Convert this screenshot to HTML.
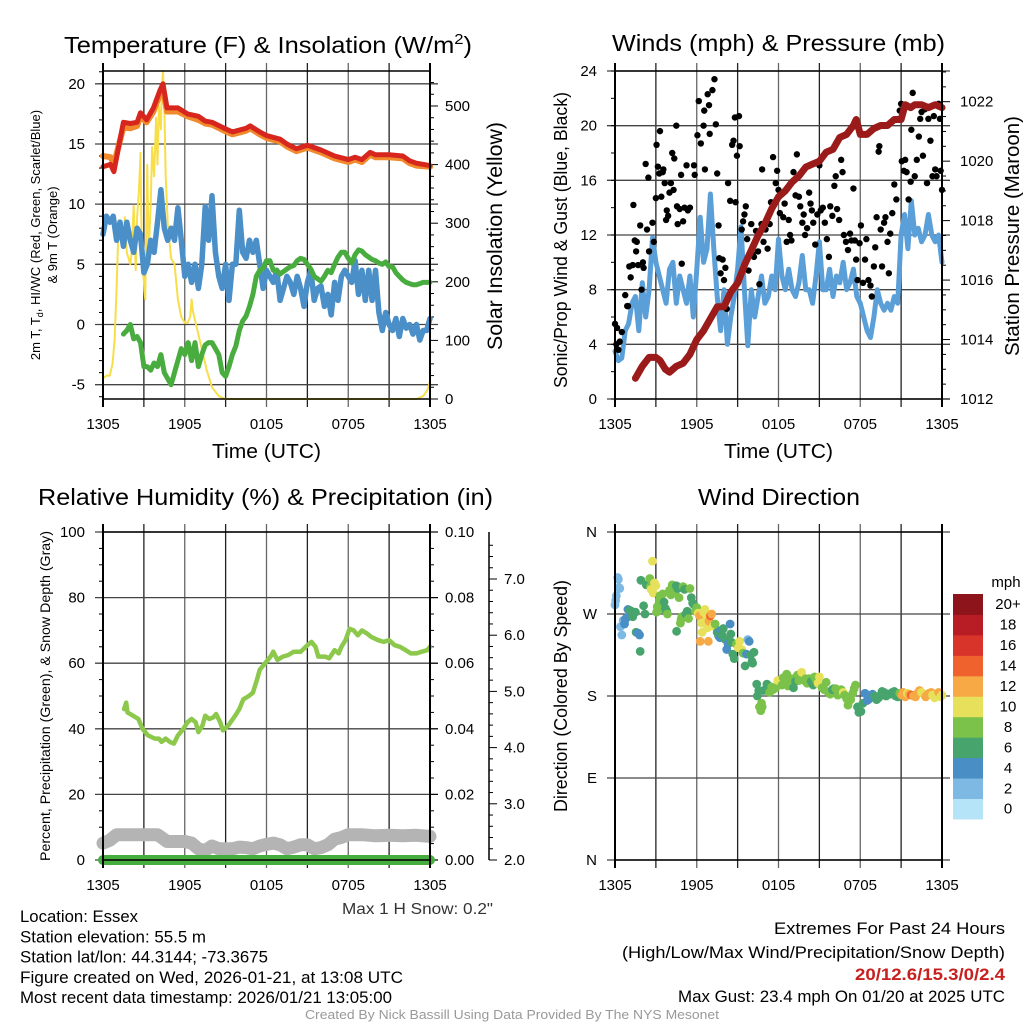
<!DOCTYPE html>
<html><head><meta charset="utf-8"><style>
html,body{margin:0;padding:0;background:#fff;}
svg{display:block;font-family:"Liberation Sans",sans-serif;}
</style></head><body>
<svg id="fig" width="1024" height="1024" viewBox="0 0 1024 1024" xmlns="http://www.w3.org/2000/svg"></svg>
<script>
// ---------- DATA ----------
const xTickLabels = ["1305","1905","0105","0705","1305"];
// Panel 1: temperature (F) & insolation
const tempT = [0,0.55,0.8,1.5,2,2.5,2.75,3.2,3.7,4.2,4.4,4.7,5.5,6.2,7,7.5,8,8.9,9.5,10.5,10.8,11.5,12,13,13.5,14.2,15,15.5,16,17,18,18.5,19,19.6,20,21,22,22.5,23,24];
const tempRed = [13.1,13.3,12.7,16.8,16.7,16.8,17.6,17,18,19.5,20,18,18,17.5,17.3,16.9,16.8,16.3,16,16.3,16.5,16,15.7,15.4,15,14.6,14.9,14.7,14.5,14,13.7,13.9,13.7,14.3,14.1,14.1,14,13.6,13.4,13.2];
const temp9m = [14,13.9,13.3,16.4,16.3,16.5,17.3,16.8,17.7,19.2,19.6,17.7,17.7,17.3,17,16.7,16.6,16.1,15.8,16.1,16.3,15.8,15.5,15.2,14.8,14.4,14.7,14.5,14.3,13.8,13.5,13.7,13.5,14.1,13.9,13.9,13.8,13.4,13.2,13.1];
const hiwcT = [0,0.25,0.5,0.75,1,1.25,1.5,1.75,2,2.25,2.5,2.75,3,3.25,3.5,3.75,4,4.25,4.5,4.75,5,5.25,5.5,5.75,6,6.25,6.5,6.75,7,7.25,7.5,7.75,8,8.25,8.5,8.75,9,9.25,9.5,9.75,10,10.25,10.5,10.75,11,11.25,11.5,11.75,12,12.25,12.5,12.75,13,13.25,13.5,13.75,14,14.25,14.5,14.75,15,15.25,15.5,15.75,16,16.25,16.5,16.75,17,17.25,17.5,17.75,18,18.25,18.5,18.75,19,19.25,19.5,19.75,20,20.25,20.5,20.75,21,21.25,21.5,21.75,22,22.25,22.5,22.75,23,23.25,23.5,23.75,24];
const hiwcBlue = [7.5,9,8.5,9,7,8.5,6.5,8.5,7,6,8,7.5,4.3,5,7,6,8.5,11.2,8,7,8,7,9.7,7,4,5,3.5,5,3,5,9.8,7,10.7,6,4,3,5,2,5,5,9.5,6,5.5,7,6,7,5,3,4.5,4,3.5,4.5,2,3,4,3.5,2.5,4,3,1.5,3.5,4.5,2,3,3.2,1.5,2.5,0.8,3.5,2,4,4.5,4,3.5,5.3,2.5,4.5,2,4.5,2,4.5,1,-0.5,1,0,-0.5,0.5,-1,0.5,-0.3,0,-0.8,0,-1.3,-0.5,-0.5,0.5];
const dewT = [1.5,1.75,2,2.25,2.5,2.75,3,3.25,3.5,3.75,4,4.25,4.5,4.75,5,5.25,5.5,5.75,6,6.25,6.5,6.75,7,7.25,7.5,7.75,8,8.25,8.5,8.75,9,9.25,9.5,9.75,10,10.25,10.5,10.75,11,11.25,11.5,11.75,12,12.25,12.5,12.75,13,13.25,13.5,13.75,14,14.25,14.5,14.75,15,15.25,15.5,15.75,16,16.25,16.5,16.75,17,17.25,17.5,17.75,18,18.25,18.5,18.75,19,19.25,19.5,19.75,20,20.25,20.5,20.75,21,21.25,21.5,21.75,22,22.25,22.5,22.75,23,23.5,24];
const dewGreen = [-0.8,-0.5,0,-1.2,-1,-1.5,-3.5,-3.5,-3.8,-3.2,-3.5,-2.5,-4,-4.5,-5,-4,-3,-2,-2.5,-1.5,-3,-1.5,-3.5,-2.5,-1.7,-1.5,-1.5,-2,-2.5,-4,-4.3,-3.5,-2.5,-1.8,-0.5,0.3,0.7,1.5,2.5,4,4.5,4.7,5.3,5.3,4.5,4.5,4.2,4.4,4.6,4.8,4.9,5.3,5.5,5.4,5,4.6,4,3.8,3.6,4,4.5,4.3,5,5.6,6,6,5.5,5.1,5.8,6.2,6.1,5.8,5.6,5.4,5.3,5.1,5,5.2,4.8,4.8,4.3,4,3.7,3.5,3.4,3.3,3.3,3.5,3.5];
const solarT = [0,0.25,0.5,0.7,0.85,1,1.15,1.3,1.5,1.6,1.75,2,2.1,2.25,2.4,2.5,2.65,2.75,2.85,3,3.1,3.25,3.35,3.5,3.6,3.75,3.9,4,4.1,4.25,4.3,4.4,4.5,4.6,4.75,5,5.25,5.5,5.75,6,6.2,6.4,6.5,6.6,6.8,7,7.3,7.6,8,8.5,9,12,18,23,23.5,23.8,24];
const solarY = [35,40,40,60,100,190,305,300,260,310,250,230,250,330,220,310,360,420,240,200,170,400,250,330,430,380,480,400,500,460,520,560,500,380,300,240,230,170,140,130,130,140,170,150,130,110,80,50,20,5,0,0,0,0,5,15,30];
// Panel 2: wind (mph) & pressure (mb)
const windT = hiwcT;
const windBlue = [3.5,2.8,3,5,5.5,7,7.5,5,8.5,6,8,11.8,10,9,8,7,9.5,10,7,9,8,7,9,6,9.5,13.3,10,11,15,11,7.5,5,8,4,6,7.5,9.5,12.6,8,3.9,8,6,7.5,9,7,7.5,9,8,11.7,9,8,9.5,8,7.5,8.5,10.5,8,8,7,9,11.5,8,8,9.5,7.5,9,8.5,10,8,8.5,9.5,7.5,7,6,5,4.5,6,8,7,6.5,7,6.5,7.5,7,12,13.5,11,14.5,12,12.5,11.5,12,13.5,12,11.5,12,10];
const gustT = [0,0.1,0.15,0.25,0.35,0.5,0.75,0.9,0.95,1.05,1.15,1.3,1.35,1.45,1.55,1.6,1.7,1.85,1.95,2.05,2.1,2.25,2.35,2.45,2.5,2.75,2.85,3.0,3.05,3.15,3.25,3.3,3.4,3.5,3.55,3.65,3.75,3.8,3.9,4.0,4.1,4.2,4.3,4.35,4.5,4.55,4.6,4.75,4.85,4.9,5.0,5.1,5.25,5.35,5.5,5.8,5.85,6.05,6.15,6.3,6.5,6.55,6.6,6.8,6.9,6.95,7.15,7.3,7.4,7.5,7.6,7.65,7.75,7.9,8.0,8.1,8.2,8.3,8.45,8.6,8.7,8.8,8.85,8.95,9.1,9.15,9.3,9.4,9.5,9.6,9.7,9.8,9.9,10.0,10.1,10.2,10.35,10.5,10.6,10.75,10.8,10.9,11.05,11.2,11.35,11.45,11.6,11.8,11.9,12.0,12.1,12.2,12.35,12.45,12.6,12.75,12.85,12.95,13.1,13.25,13.35,13.5,13.6,13.75,13.85,13.95,14.1,14.25,14.35,14.45,14.55,14.7,14.85,15.0,15.1,15.25,15.4,15.55,15.7,15.8,15.95,16.1,16.2,16.3,16.45,16.6,16.7,16.8,16.95,17.1,17.25,17.35,17.5,17.6,17.7,17.8,17.95,18.05,18.2,18.35,18.45,18.6,18.75,18.85,19.0,19.1,19.2,19.35,19.4,19.5,19.6,19.75,19.85,20.0,20.1,20.2,20.35,20.5,20.65,20.9,21.0,21.05,21.2,21.3,21.4,21.55,21.7,21.75,21.85,22.0,22.15,22.3,22.4,22.5,22.6,22.75,22.9,23.0,23.15,23.3,23.4,23.5,23.6,23.75,23.85,23.9,24.0];
const gustV = [5.5,4,5.2,3.6,4.2,4.9,7.6,6.8,6.8,9.7,8.9,9.8,14.2,11.6,10.8,11.5,9.8,12.7,8,10,9.6,17.2,12.4,16.2,10.8,12.9,11.5,14.7,18.6,17,16.5,19.6,14.8,16.6,16.8,15.8,13.1,13.8,13.4,15.1,15.8,18,15.3,17.6,20,14.1,12.8,13.9,16.4,9.9,13,14,17.1,13.8,14,17.1,16.4,19.3,21.8,18.7,20,21.1,16.8,22.3,21.5,19.4,22.6,23.4,20.1,16.5,12.7,10.3,9.2,10.2,8.7,9.6,6.6,15.8,14.5,18.6,18.9,20.6,14.4,17.8,20.7,18.5,12.4,13,13.5,14.1,11.7,9.4,10.6,12.8,10.6,10.4,12.3,10.8,8.4,12.8,16.8,11.5,12.4,11,12.8,14.4,17.7,15.8,16.7,15.3,13.6,15,13.3,14.3,11.5,13.1,12,11.6,16.6,14.9,17.9,14.8,14.1,12.9,13.5,12,12.5,15.1,14.3,13.8,12.9,11.3,13.5,17.1,13.8,14,12.9,11.7,10.4,14.1,13.4,15.6,16.3,13.9,13.1,17.5,16.6,12,11.5,10.9,12.1,11.6,15.4,11.6,10.2,8.7,11.4,12.7,8.5,10.2,11.7,8.7,8.3,7.5,9.7,11.1,13.3,18.1,18.5,12.4,9.7,12.9,13.3,11.5,9.2,12.1,13.6,15.7,14.6,21.1,21.6,17.4,16.7,17.5,16.6,14.6,15.9,19.7,22.4,16.3,17.5,19.2,20.5,21,17.8,21.2,15.8,20.5,18.9,16.3,20.7,16.8,16.3,21.6,20.5,16.7,15.3];
const presT = [1.5,2,2.5,3,3.3,3.7,4,4.5,5,5.5,6,6.5,7,7.5,8,8.5,9,9.5,10,10.5,11,11.5,12,12.5,13,13.5,14,14.5,15,15.5,16,16.5,17,17.5,17.7,18,18.5,19,19.5,20,20.5,21,21.3,21.7,22,22.5,23,23.5,24];
const presV = [1012.7,1013.1,1013.4,1013.4,1013.3,1013.0,1012.9,1013.1,1013.2,1013.5,1014.0,1014.3,1014.7,1015.1,1015.1,1015.6,1015.9,1016.5,1017.0,1017.5,1017.9,1018.4,1018.8,1019.0,1019.3,1019.5,1019.8,1019.9,1020.0,1020.3,1020.4,1020.8,1020.9,1021.2,1021.4,1020.9,1020.9,1021.1,1021.2,1021.2,1021.4,1021.4,1021.9,1021.8,1021.9,1021.9,1021.8,1021.9,1021.8];
// Panel 3: RH, precipitation, snow depth
const rhT = [1.55,1.7,1.8,2.2,2.6,2.9,3.3,3.8,4.1,4.3,4.6,4.9,5.2,5.5,5.9,6.2,6.5,6.8,7.0,7.3,7.5,7.8,8.1,8.3,8.6,8.8,9.2,9.7,10.0,10.3,10.7,11.0,11.3,11.5,11.9,12.3,12.5,12.8,13.2,13.6,14.0,14.5,15.0,15.3,15.6,15.8,16.3,16.6,17,17.3,17.5,17.8,18.1,18.4,18.7,19,19.4,19.7,20.2,20.6,21,21.4,21.8,22.2,22.6,23.0,23.4,23.8,24];
const rhV = [46,48,45,44,43,40,38,37,37,36,37,36,35.5,38,40,42,43,42,39,41,44,43,43.5,44.5,42,39.5,41,44,46,49,50,51,55,58,60,62,63.5,61,62,62.5,63.5,63.5,65.5,66.5,65,62,62,61.5,64,63,65,67,70.5,70,68.5,70,69,68,67,66.5,67,65.5,65,64,63,63,63.5,64,65];
const precipT = [0,24];
const precipV = [0,0];
const snowT = [0,0.5,1,1.5,2,3,4,4.3,4.7,5.2,6,6.5,7,7.5,8,8.5,9,9.5,10,10.5,11,11.5,12,12.5,13,13.5,14,14.5,15,15.5,16,16.5,17,17.5,18,19,20,21,22,23,24];
const snowV = [2.3,2.35,2.45,2.45,2.45,2.45,2.45,2.4,2.33,2.33,2.33,2.3,2.2,2.17,2.25,2.2,2.2,2.2,2.23,2.22,2.2,2.25,2.28,2.3,2.27,2.2,2.23,2.27,2.27,2.2,2.22,2.27,2.37,2.4,2.45,2.45,2.43,2.44,2.43,2.44,2.42];
// Panel 4: wind direction (deg), colored by speed
const dirT = [0,0.05,0.1,0.2,0.25,0.3,0.35,0.4,0.5,0.6,0.7,0.75,0.85,0.95,1.1,1.2,1.3,1.5,1.55,1.7,1.8,1.85,1.9,2.1,2.2,2.3,2.45,2.55,2.6,2.65,2.75,2.8,2.9,3.0,3.05,3.1,3.25,3.3,3.4,3.5,3.6,3.7,3.8,3.85,4.0,4.1,4.2,4.3,4.4,4.5,4.52,4.6,4.7,4.8,4.85,4.9,5.0,5.1,5.2,5.3,5.4,5.5,5.6,5.7,5.8,5.9,6.0,6.1,6.2,6.25,6.35,6.4,6.5,6.6,6.7,6.75,6.8,6.85,6.9,7.0,7.1,7.2,7.35,7.5,7.6,7.7,7.75,7.85,7.95,8.1,8.2,8.3,8.45,8.5,8.55,8.65,8.75,8.9,9.05,9.15,9.3,9.4,9.55,9.65,9.75,9.85,9.95,10.05,10.1,10.2,10.4,10.45,10.55,10.6,10.7,10.75,10.8,10.9,11.05,11.15,11.25,11.35,11.5,11.6,11.8,11.95,12.1,12.25,12.35,12.45,12.6,12.7,12.85,12.95,13.1,13.25,13.4,13.5,13.6,13.7,13.9,14.0,14.1,14.25,14.4,14.55,14.65,14.75,14.9,15.0,15.2,15.35,15.5,15.65,15.8,15.95,16.05,16.2,16.35,16.5,16.6,16.75,16.85,17.0,17.1,17.2,17.3,17.45,17.55,17.65,17.8,17.9,18.05,18.2,18.35,18.5,18.6,18.75,18.9,19.05,19.2,19.35,19.5,19.6,19.75,19.9,20.05,20.2,20.35,20.5,20.6,20.75,20.9,21.05,21.15,21.3,21.45,21.6,21.75,21.9,22.05,22.2,22.35,22.5,22.65,22.8,22.9,23.05,23.2,23.3,23.45,23.6,23.75,23.9,24.0];
const dirDeg = [280,285,290,310,308,299,298,256,247,263,259,264,266,275,274,273,267,272,250,249,247,229,307,279,270,302,303,309,300,297,328,293,304,301,272,278,285,290,275,292,283,276,273,270,296,291,302,300,293,301,251,298,288,260,264,267,300,297,270,273,265,298,288,282,280,273,277,271,268,240,260,250,272,275,263,267,255,240,262,268,270,257,259,250,246,244,252,247,254,242,231,237,259,248,239,226,221,237,233,240,231,227,213,226,242,240,225,218,216,228,193,180,186,168,164,172,168,186,187,193,191,184,190,187,189,197,196,192,200,194,204,191,193,199,189,196,203,197,199,206,197,199,194,199,196,192,201,198,194,201,189,187,195,184,182,187,188,188,181,186,187,184,181,177,170,175,176,183,188,192,168,162,163,172,183,175,176,180,182,180,176,178,181,185,184,180,182,182,184,185,180,179,183,181,184,179,183,182,181,180,179,183,186,184,182,179,181,183,184,181,178,180,184,179,181];
const speedBins = ["0","2","4","6","8","10","12","14","16","18","20+"];
const binColors = ["#b5e3f8","#7db9e3","#4a8ec6","#47a46c","#7bc24a","#e6e05a","#f6a944","#ef612d","#d9342a","#b81c25","#8e141b"];
const extremes = "20/12.6/15.3/0/2.4";

// ---------- HELPERS ----------
const NS = "http://www.w3.org/2000/svg";
const svg = document.getElementById("fig");
function el(tag, attrs, parent, text){
  const e = document.createElementNS(NS, tag);
  for (const k in attrs) e.setAttribute(k, attrs[k]);
  if (text !== undefined) e.textContent = text;
  (parent || svg).appendChild(e);
  return e;
}
function lin(d0,d1,r0,r1){ return v => r0 + (v-d0)*(r1-r0)/(d1-d0); }
function pathFrom(ts, vs, xs, ys){
  let d="";
  for(let i=0;i<ts.length;i++){ d += (i?"L":"M")+xs(ts[i]).toFixed(1)+","+ys(vs[i]).toFixed(1); }
  return d;
}
function interp(ts, vs, t){
  if (t<=ts[0]) return vs[0];
  for(let i=1;i<ts.length;i++){ if(t<=ts[i]){ const f=(t-ts[i-1])/(ts[i]-ts[i-1]); return vs[i-1]+f*(vs[i]-vs[i-1]); } }
  return vs[vs.length-1];
}
function gridAndFrame(g, L, R, T, B, hy, xs){
  for(let h=3; h<24; h+=3){
    const x = xs(h);
    const ln = el("line",{x1:x,x2:x,y1:T-8,y2:B+8,stroke:(h%6===0)?"#666":"#222","stroke-width":1.3},g);
    
    
  }
  hy.forEach(y=>{
    const ln = el("line",{x1:L-8,x2:R+8,y1:y,y2:y,stroke:"#444","stroke-width":1.3},g);
    
    
  });
}
function frame(g,L,R,T,B){
  el("line",{x1:L,x2:L,y1:T-8,y2:B+8,stroke:"#000","stroke-width":2},g);
  el("line",{x1:R,x2:R,y1:T-8,y2:B+8,stroke:"#000","stroke-width":2},g);
  el("line",{x1:L,x2:R,y1:T,y2:T,stroke:"#000","stroke-width":1.5},g);
  el("line",{x1:L,x2:R,y1:B,y2:B,stroke:"#000","stroke-width":1.5},g);
}
function xLabels(g, xs, y){
  xTickLabels.forEach((lab,i)=>{
    const t = el("text",{x:xs(i*6),y:y,"font-size":15,"text-anchor":"middle",fill:"#000"},g,lab);
    
    
  });
}
function rotText(g, x, y, size, txt, name, len){
  const a = {x:0,y:0,"font-size":size,"text-anchor":"middle",transform:`translate(${x},${y}) rotate(-90)`,fill:"#000"};
  if (len) { a.textLength = len; a.lengthAdjust = "spacingAndGlyphs"; }
  const t = el("text",a,g,txt);
  
  
  return t;
}
function fitText(g, attrs, txt, len, name){
  attrs.textLength = len; attrs.lengthAdjust = "spacingAndGlyphs";
  const t = el("text", attrs, g, txt);
  
  
  return t;
}

// ---------- PANEL 1 ----------
(function(){
  const g = el("g",{});
  
  
  const L=103,R=430,T=71,B=399;
  const xs = lin(0,24,L,R);
  const ys = lin(0,20,324.5,83.8);
  const ysR = lin(0,500,399,106);
  const ticks=[-5,0,5,10,15,20];
  gridAndFrame(g,L,R,T,B,ticks.map(ys),xs);
  for(let v=0; v<=540; v+=20){
    const y=ysR(v); el("line",{x1:R,x2:R+(v%100===0?8:4),y1:y,y2:y,stroke:"#000","stroke-width":1},g);
  }
  for(let v=-6; v<=21; v++){ const y=ys(v); if(v%5) el("line",{x1:L-4,x2:L,y1:y,y2:y,stroke:"#000","stroke-width":1},g); }
  ticks.forEach(v=>{ const t=el("text",{x:L-18,y:ys(v)+5,"font-size":15,"text-anchor":"end"},g,String(v));   });
  [0,100,200,300,400,500].forEach(v=>{ const t=el("text",{x:R+15,y:ysR(v)+5,"font-size":15},g,String(v));   });
  const series = [
    [solarT,solarY,ysR,"#f7de4a",2,"solar-insolation-line"],
    [tempT,temp9m,ys,"#f08a2c",6,"temp-9m-line"],
    [tempT,tempRed,ys,"#d7261e",5,"temp-2m-line"],
    [hiwcT,hiwcBlue,ys,"#4a8fc8",5.5,"heat-index-windchill-line"],
    [dewT,dewGreen,ys,"#48ad3e",5,"dewpoint-line"]
  ];
  series.forEach(s=>{
    const p = el("path",{d:pathFrom(s[0],s[1],xs,s[2]),fill:"none",stroke:s[3],"stroke-width":s[4],"stroke-linejoin":"round","stroke-linecap":"round"},g);
    
    
  });
  frame(g,L,R,T,B);
  xLabels(g,xs,429);
  const ti = el("text",{x:64,y:53,"font-size":23,textLength:408,lengthAdjust:"spacingAndGlyphs"},g);
  
  
  ti.innerHTML = 'Temperature (F) &amp; Insolation (W/m<tspan font-size="15" dy="-9">2</tspan><tspan dy="9">)</tspan>';
  const yl = el("text",{x:0,y:0,"font-size":13,"text-anchor":"middle",transform:"translate(40,235) rotate(-90)"},g);
  
  
  yl.innerHTML='2m T, T<tspan font-size="9" dy="3">d</tspan><tspan dy="-3">, HI/WC (Red, Green, Scarlet/Blue)</tspan>';
  rotText(g,57,235,13,"& 9m T (Orange)","left-axis-title-line2");
  rotText(g,502,236,21,"Solar Insolation (Yellow)","right-axis-title",228);
  fitText(g,{x:212,y:458,"font-size":20},"Time (UTC)",109,"x-axis-title");
})();

// ---------- PANEL 2 ----------
(function(){
  const g = el("g",{});
  
  
  const L=615,R=942,T=71,B=399;
  const xs = lin(0,24,L,R);
  const ys = lin(0,24,B,T);
  const ysR = lin(1012,1022,399,101.7);
  const ticks=[0,4,8,12,16,20,24];
  gridAndFrame(g,L,R,T,B,ticks.map(ys),xs);
  for(let v=1012; v<=1023; v+=0.5){ const y=ysR(v); el("line",{x1:R,x2:R+(Math.abs(v%2)<0.01?8:4),y1:y,y2:y,stroke:"#000","stroke-width":1},g); }
  for(let v=0; v<=24; v+=2){ const y=ys(v); el("line",{x1:L-4,x2:L,y1:y,y2:y,stroke:"#000","stroke-width":1},g); }
  ticks.forEach(v=>{ const t=el("text",{x:L-18,y:ys(v)+5,"font-size":15,"text-anchor":"end"},g,String(v));   });
  [1012,1014,1016,1018,1020,1022].forEach(v=>{ const t=el("text",{x:R+18,y:ysR(v)+5,"font-size":15},g,String(v));   });
  const wp = el("path",{d:pathFrom(windT,windBlue,xs,ys),fill:"none",stroke:"#5b9fd8","stroke-width":5,"stroke-linejoin":"round","stroke-linecap":"round"},g);
  
  
  gustT.forEach((t,i)=>{
    const c = el("circle",{cx:xs(t),cy:ys(gustV[i]),r:3.2,fill:"#000"},g);
    
    
  });
  const pp = el("path",{d:pathFrom(presT,presV,xs,ysR),fill:"none",stroke:"#9b1b1b","stroke-width":7,"stroke-linejoin":"round","stroke-linecap":"round"},g);
  
  
  frame(g,L,R,T,B);
  xLabels(g,xs,429);
  fitText(g,{x:612,y:51,"font-size":23},"Winds (mph) & Pressure (mb)",333,"winds-title");
  rotText(g,567,240,18,"Sonic/Prop Wind & Gust (Blue, Black)","left-axis-title",296);
  rotText(g,1019,236,20,"Station Pressure (Maroon)","right-axis-title",240);
  fitText(g,{x:724,y:458,"font-size":20},"Time (UTC)",109,"x-axis-title");
})();

// ---------- PANEL 3 ----------
(function(){
  const g = el("g",{});
  
  
  const L=103,R=430,T=532,B=860;
  const xs = lin(0,24,L,R);
  const ys = lin(0,100,B,T);
  const ysP = lin(0,0.1,B,T);
  const ysS = lin(2,7,860,579);
  const ticks=[0,20,40,60,80,100];
  gridAndFrame(g,L,R,T,B,ticks.map(ys),xs);
  for(let v=0; v<=100; v+=5){ const y=ys(v); el("line",{x1:R,x2:R+(v%20===0?8:4),y1:y,y2:y,stroke:"#000","stroke-width":1},g); if(v%20) el("line",{x1:L-4,x2:L,y1:y,y2:y,stroke:"#000","stroke-width":1},g); }
  el("line",{x1:489,x2:489,y1:T,y2:B,stroke:"#000","stroke-width":1.5},g);
  for(let v=2; v<=7.8; v+=0.2){ const y=ysS(v); el("line",{x1:489,x2:489+(Math.abs(v-Math.round(v))<0.01?8:4),y1:y,y2:y,stroke:"#000","stroke-width":1},g); }
  ticks.forEach(v=>{ const t=el("text",{x:L-18,y:ys(v)+5,"font-size":15,"text-anchor":"end"},g,String(v));   });
  [0,0.02,0.04,0.06,0.08,0.1].forEach(v=>{ const t=el("text",{x:R+15,y:ysP(v)+5,"font-size":15},g,v.toFixed(2));   });
  [2,3,4,5,6,7].forEach(v=>{ const t=el("text",{x:504,y:ysS(v)+5,"font-size":15},g,v.toFixed(1));   });
  const sp = el("path",{d:pathFrom(snowT,snowV,xs,ysS),fill:"none",stroke:"#b4b4b4","stroke-width":13,"stroke-linejoin":"round","stroke-linecap":"round"},g);
  
  
  const pr = el("path",{d:pathFrom(precipT,precipV,xs,ysP),fill:"none",stroke:"#46ad3f","stroke-width":10,"stroke-linecap":"round"},g);
  
  
  const rh = el("path",{d:pathFrom(rhT,rhV,xs,ys),fill:"none",stroke:"#8cc84b","stroke-width":4.5,"stroke-linejoin":"round","stroke-linecap":"round"},g);
  
  
  frame(g,L,R,T,B);
  xLabels(g,xs,890);
  fitText(g,{x:38,y:505,"font-size":23},"Relative Humidity (%) & Precipitation (in)",455,"humidity-title");
  rotText(g,50,696,14,"Percent, Precipitation (Green), & Snow Depth (Gray)","left-axis-title",330);
  fitText(g,{x:342,y:914,"font-size":16,fill:"#333"},'Max 1 H Snow: 0.2"',151,"max-snow-note");
})();

// ---------- PANEL 4 ----------
(function(){
  const g = el("g",{});
  
  
  const L=615,R=942,T=532,B=860;
  const xs = lin(0,24,L,R);
  const ys = lin(0,360,B,T);
  const dirLabels=["N","E","S","W","N"];
  gridAndFrame(g,L,R,T,B,[0,90,180,270,360].map(ys),xs);
  dirLabels.forEach((lab,i)=>{ const t=el("text",{x:L-18,y:ys(i*90)+5,"font-size":15,"text-anchor":"end"},g,lab);   });
  dirT.forEach((t,i)=>{
    const spd = interp(windT,windBlue,t);
    const bin = Math.min(10, Math.max(0, Math.floor(spd/2)));
    const c = el("circle",{cx:xs(t),cy:ys(dirDeg[i]),r:4.4,fill:binColors[bin]},g);
    
    
  });
  frame(g,L,R,T,B);
  xLabels(g,xs,890);
  fitText(g,{x:698,y:505,"font-size":23},"Wind Direction",162,"wind-direction-title");
  rotText(g,567,696,18,"Direction (Colored By Speed)","left-axis-title",232);
  const cb = el("g",{},g);
  
  
  const h=20.45, top=594;
  for(let i=0;i<11;i++){
    const y = top + (10-i)*h;
    const r = el("rect",{x:953,y:y,width:30,height:h+0.5,fill:binColors[i]},cb);
    
    
    const t = el("text",{x:1008,y:y+h/2+5,"font-size":15,"text-anchor":"middle"},cb,speedBins[i]);
    
    
  }
  const mph=el("text",{x:1006,y:587,"font-size":15,"text-anchor":"middle"},cb,"mph");
   
})();

// ---------- FOOTER ----------
(function(){
  const g = el("g",{"font-size":16.5});
  
  
  const left=["Location: Essex","Station elevation: 55.5 m","Station lat/lon: 44.3144; -73.3675","Figure created on Wed, 2026-01-21, at 13:08 UTC","Most recent data timestamp: 2026/01/21 13:05:00"];
  const leftW=[118,186,248,383,372];
  left.forEach((s,i)=>{ fitText(g,{x:20,y:922+i*20.3},s,leftW[i],"station-info-line"); });
  fitText(g,{x:774,y:934},"Extremes For Past 24 Hours",231,"extremes-heading");
  fitText(g,{x:622,y:958},"(High/Low/Max Wind/Precipitation/Snow Depth)",383,"extremes-legend");
  fitText(g,{x:855,y:980,fill:"#c8201e","font-weight":"bold"},extremes,150,"extremes-values");
  fitText(g,{x:678,y:1002},"Max Gust: 23.4 mph On 01/20 at 2025 UTC",327,"max-gust-note");
  fitText(g,{x:305,y:1019,"font-size":13,fill:"#999"},"Created By Nick Bassill Using Data Provided By The NYS Mesonet",414,"credit-line");
})();
</script>
</body></html>
